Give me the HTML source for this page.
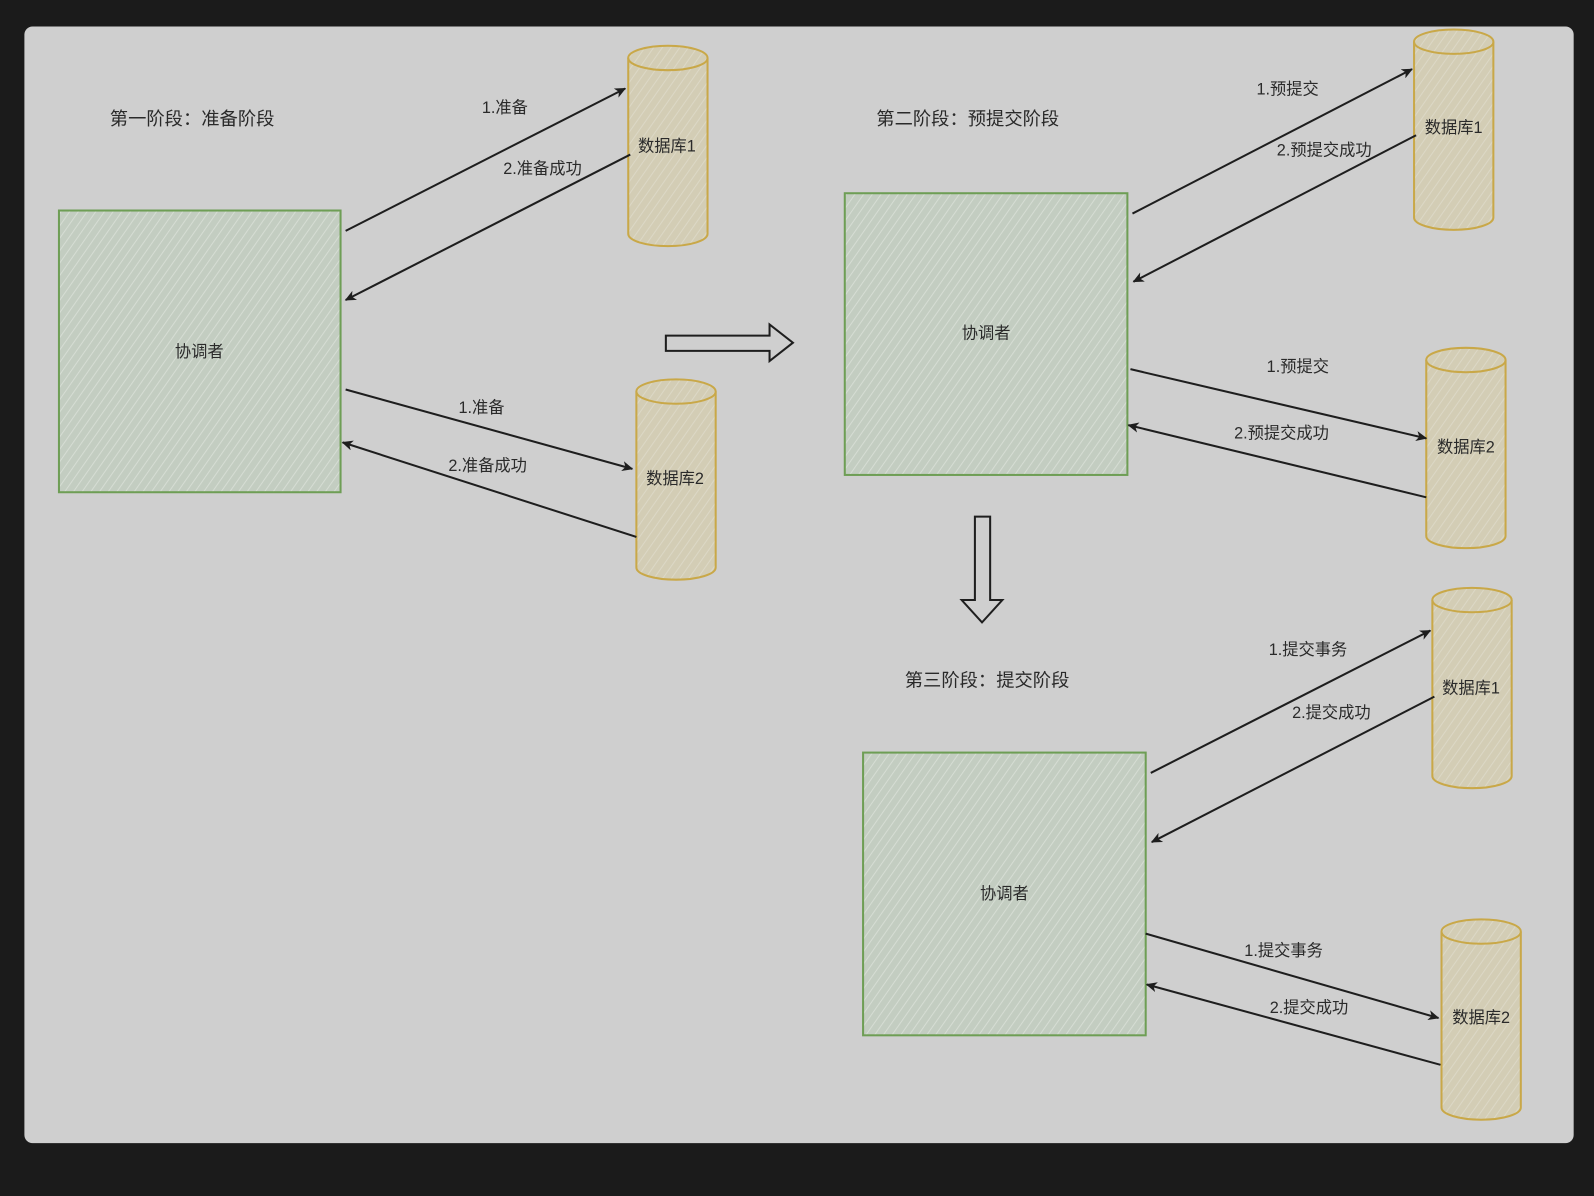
<!DOCTYPE html>
<html><head><meta charset="utf-8"><style>
html,body{margin:0;padding:0;background:#1b1b1b;width:1594px;height:1196px;overflow:hidden}
svg{display:block}
text{font-family:"Liberation Sans","Noto Sans CJK SC",sans-serif;fill:#2a2a2a}
</style></head><body>
<svg width="1594" height="1196" viewBox="0 0 1568 1176" preserveAspectRatio="none" xmlns="http://www.w3.org/2000/svg">
<defs>
<pattern id="hg" width="7" height="7" patternUnits="userSpaceOnUse" patternTransform="rotate(35)">
<rect width="7" height="7" fill="#c3cdc1"/><line x1="0" y1="0" x2="0" y2="7" stroke="#d6ddd4" stroke-width="2"/></pattern>
<pattern id="hy" width="7" height="7" patternUnits="userSpaceOnUse" patternTransform="rotate(35)">
<rect width="7" height="7" fill="#d3cdb5"/><line x1="0" y1="0" x2="0" y2="7" stroke="#dcd8c6" stroke-width="2"/></pattern>
<marker id="ar" markerWidth="12" markerHeight="10" refX="10" refY="5" orient="auto" markerUnits="userSpaceOnUse">
<path d="M0,0 L11,5 L0,10 L3,5 Z" fill="#1e1e1e"/></marker>
<g id="cyl">
<path d="M0,12 L0,185 A39,12 0 0 0 78,185 L78,12" fill="url(#hy)" stroke="#c9a848" stroke-width="2"/>
<ellipse cx="39" cy="12" rx="39" ry="12" fill="url(#hy)" stroke="#c9a848" stroke-width="2"/>
</g>
</defs>
<rect x="0" y="0" width="1568" height="1176" fill="#1b1b1b"/>
<rect x="24" y="26" width="1524" height="1098" rx="8" fill="#cfcfcf"/>

<g stroke="#6e9e55" stroke-width="2" fill="url(#hg)">
<rect x="58" y="207" width="277" height="277"/>
<rect x="831" y="190" width="278" height="277"/>
<rect x="849" y="740" width="278" height="278"/>
</g>

<use href="#cyl" x="618" y="45"/>
<use href="#cyl" x="626" y="373"/>
<use href="#cyl" x="1391" y="29"/>
<use href="#cyl" x="1403" y="342"/>
<use href="#cyl" x="1409" y="578"/>
<use href="#cyl" x="1418" y="904"/>

<g stroke="#1e1e1e" stroke-width="2" marker-end="url(#ar)">
<line x1="340" y1="227" x2="615" y2="87"/>
<line x1="620" y1="152" x2="340" y2="295"/>
<line x1="340" y1="383" x2="622" y2="461"/>
<line x1="626" y1="528" x2="337" y2="435"/>
<line x1="1114" y1="210" x2="1389" y2="68"/>
<line x1="1393" y1="133" x2="1115" y2="277"/>
<line x1="1112" y1="363" x2="1403" y2="431"/>
<line x1="1403" y1="489" x2="1110" y2="418"/>
<line x1="1132" y1="760" x2="1407" y2="620"/>
<line x1="1411" y1="685" x2="1133" y2="828"/>
<line x1="1127" y1="918" x2="1415" y2="1001"/>
<line x1="1417" y1="1047" x2="1128" y2="968"/>
</g>

<path d="M655,330 L757,330 L757,319 L780,337 L757,355 L757,345 L655,345 Z" fill="none" stroke="#1e1e1e" stroke-width="2"/>
<path d="M959,508 L974,508 L974,590 L986,590 L966,612 L946,590 L959,590 Z" fill="none" stroke="#1e1e1e" stroke-width="2"/>

<g font-size="18">
<text x="108" y="123">第一阶段：准备阶段</text>
<text x="862" y="123">第二阶段：预提交阶段</text>
<text x="890" y="675">第三阶段：提交阶段</text>
</g>
<g font-size="16" text-anchor="middle">
<text x="196" y="351">协调者</text>
<text x="970" y="333">协调者</text>
<text x="988" y="884">协调者</text>
<text x="656" y="149">数据库1</text>
<text x="664" y="476">数据库2</text>
<text x="1430" y="131">数据库1</text>
<text x="1442" y="445">数据库2</text>
<text x="1447" y="682">数据库1</text>
<text x="1457" y="1006">数据库2</text>
</g>
<g font-size="16">
<text x="474" y="111">1.准备</text>
<text x="495" y="171">2.准备成功</text>
<text x="451" y="406">1.准备</text>
<text x="441" y="463">2.准备成功</text>
<text x="1236" y="93">1.预提交</text>
<text x="1256" y="153">2.预提交成功</text>
<text x="1246" y="366">1.预提交</text>
<text x="1214" y="431">2.预提交成功</text>
<text x="1248" y="644">1.提交事务</text>
<text x="1271" y="706">2.提交成功</text>
<text x="1224" y="940">1.提交事务</text>
<text x="1249" y="996">2.提交成功</text>
</g>
</svg>
</body></html>
